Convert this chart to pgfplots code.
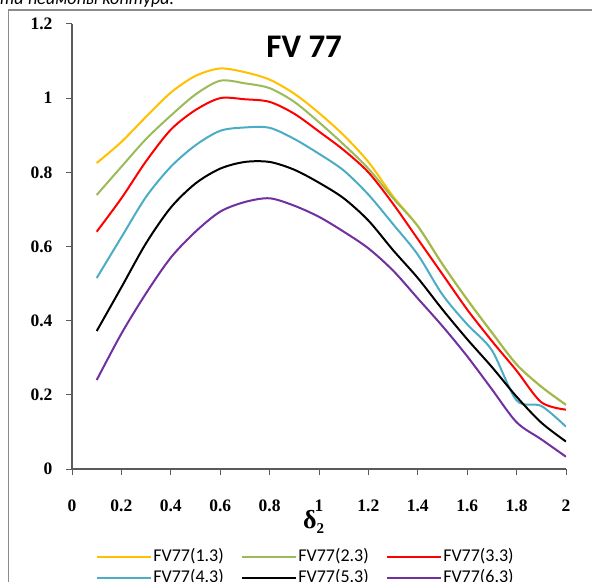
\documentclass[border=0pt]{standalone}
\usepackage{pgfplots}
\pgfplotsset{compat=1.18}
\usepackage{fontspec}
\setmainfont{Liberation Serif}
\newfontfamily\calibri{Carlito}
\definecolor{cYellow}{RGB}{255,192,0}
\definecolor{cGreen}{RGB}{155,187,89}
\definecolor{cRed}{RGB}{255,0,0}
\definecolor{cBlue}{RGB}{75,172,198}
\definecolor{cPurple}{RGB}{112,48,160}
\definecolor{axgray}{RGB}{90,90,90}
\definecolor{bordergray}{RGB}{140,140,140}

\pgfplotstableread{
x y1 y2 y3 y4 y5 y6
0.1 0.825 0.739 0.640 0.515 0.372 0.240
0.2 0.882 0.815 0.730 0.625 0.490 0.365
0.3 0.950 0.890 0.830 0.734 0.609 0.474
0.4 1.015 0.953 0.915 0.815 0.705 0.570
0.5 1.060 1.010 0.968 0.873 0.770 0.640
0.6 1.080 1.047 1.000 0.912 0.810 0.694
0.7 1.070 1.040 0.997 0.921 0.828 0.720
0.8 1.050 1.027 0.990 0.920 0.828 0.730
0.9 1.012 0.990 0.958 0.890 0.807 0.710
1.0 0.960 0.935 0.910 0.850 0.772 0.680
1.1 0.900 0.875 0.860 0.805 0.730 0.640
1.2 0.828 0.810 0.800 0.740 0.670 0.595
1.3 0.735 0.730 0.715 0.660 0.590 0.535
1.4 0.655 0.655 0.620 0.578 0.515 0.460
1.5 0.552 0.552 0.525 0.470 0.430 0.385
1.6 0.457 0.457 0.430 0.390 0.350 0.304
1.7 0.368 0.368 0.345 0.320 0.275 0.215
1.8 0.282 0.282 0.265 0.185 0.195 0.126
1.9 0.222 0.222 0.180 0.170 0.125 0.080
2.0 0.173 0.173 0.160 0.114 0.074 0.033
}\datatable

\begin{document}
\begin{tikzpicture}
\useasboundingbox (0,0) rectangle (592bp,582bp);
\begin{scope}
\clip (0,0) rectangle (592bp,582bp);
\node[anchor=base west, inner sep=0] at (0bp,577bp) {\calibri\itshape\fontsize{18bp}{20bp}\selectfont та неймоны контура.};
\draw[line width=1.6bp, color=bordergray] (8.5bp,-5bp) -- (8.5bp,572bp) -- (600bp,572bp);
\end{scope}
\begin{axis}[
  at={(72bp,113bp)}, anchor=south west,
  scale only axis, width=494bp, height=445bp,
  xmin=0, xmax=2, ymin=0, ymax=1.2,
  axis x line*=bottom, axis y line*=left,
  axis line style={axgray, line width=1.2bp, -},
  xtick={0,0.2,0.4,0.6,0.8,1,1.2,1.4,1.6,1.8,2},
  ytick={0,0.2,0.4,0.6,0.8,1,1.2},
  tick align=outside, major tick length=6bp,
  tick style={axgray, line width=1bp},
  /pgf/number format/assume math mode=true,
  ticklabel style={font=\bfseries\fontsize{17.5bp}{17.5bp}\selectfont},
  xticklabel style={yshift=-21bp},
  yticklabel style={xshift=-10bp},
  xlabel={\bfseries δ\raisebox{-5bp}{\fontsize{15bp}{15bp}\selectfont 2}},
  xlabel style={at={(axis description cs:0.489,-0.1326)}, anchor=base, inner sep=0pt, font=\fontsize{26bp}{28bp}\selectfont},
  title={FV 77},
  title style={at={(axis description cs:0.47,0.935)}, anchor=center, font=\calibri\bfseries\fontsize{33bp}{36bp}\selectfont},
  legend columns=3,
  legend style={at={(axis description cs:0.049,-0.177)}, anchor=north west, draw=none, fill=none, inner sep=0pt,
    font=\calibri\fontsize{18bp}{19bp}\selectfont,
    nodes={inner sep=1bp, text height=13bp, text depth=4bp},
    /tikz/every even column/.append style={column sep=16.5bp}, row sep=1.5bp},
  legend image code/.code={\path (0bp,0bp) -- (54bp,0bp);\draw[#1, line width=2bp] (0bp,0bp) -- (51bp,0bp);},
  every axis plot/.append style={line width=2bp, smooth, tension=0.5, no marks},
]
\addplot[cYellow] table[x=x, y=y1] {\datatable};
\addplot[cGreen] table[x=x, y=y2] {\datatable};
\addplot[cRed] table[x=x, y=y3] {\datatable};
\addplot[cBlue] table[x=x, y=y4] {\datatable};
\addplot[black] table[x=x, y=y5] {\datatable};
\addplot[cPurple] table[x=x, y=y6] {\datatable};
\legend{FV77(1.3),FV77(2.3),FV77(3.3),FV77(4.3),FV77(5.3),FV77(6.3)}
\end{axis}
\end{tikzpicture}
\end{document}
